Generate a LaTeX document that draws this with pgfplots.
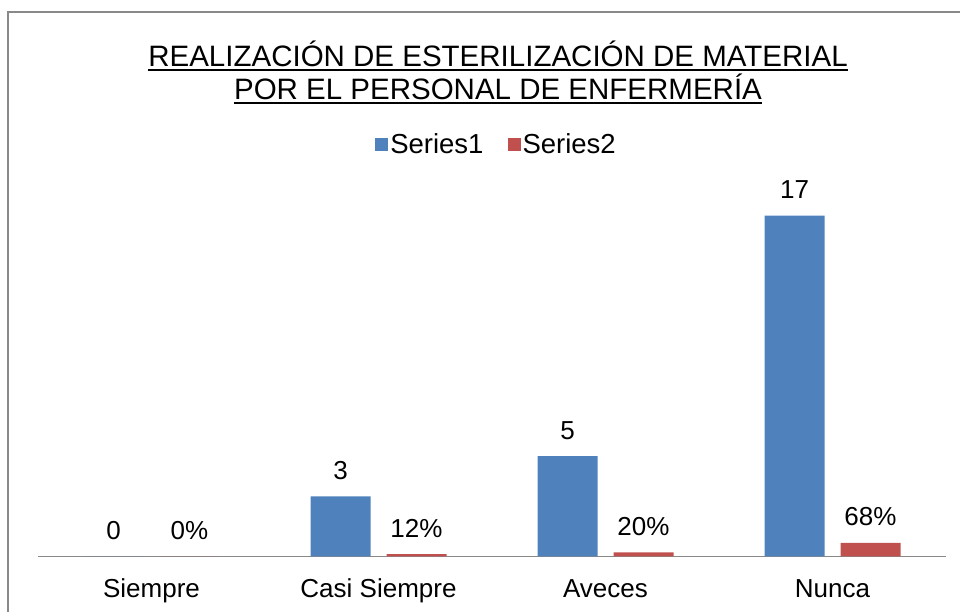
\documentclass[border=0pt]{standalone}
\usepackage{pgfplots}
\pgfplotsset{compat=1.18}
\usepackage{fontspec}
\setmainfont{Liberation Sans}
\definecolor{sone}{HTML}{4F81BD}
\definecolor{stwo}{HTML}{C0504D}
\definecolor{frame}{HTML}{898989}
\begin{document}
\begin{tikzpicture}[x=1pt,y=1pt]
\useasboundingbox (0,0) rectangle (960,612);
\draw[frame, line width=2pt] (7.5,-5) -- (7.5,600) -- (965,600);
\node[font=\fontsize{29.5}{34}\selectfont, inner sep=0pt, anchor=base] (t1) at (498,545) {REALIZACIÓN DE ESTERILIZACIÓN DE MATERIAL};
\node[font=\fontsize{29.5}{34}\selectfont, inner sep=0pt, anchor=base] (t2) at (498,512) {POR EL PERSONAL DE ENFERMERÍA};
\draw[line width=2pt] ([yshift=-3.5pt]t1.base west) -- ([yshift=-3.5pt]t1.base east);
\draw[line width=2pt] ([yshift=-3.5pt]t2.base west) -- ([yshift=-3.5pt]t2.base east);
\begin{axis}[
  at={(38pt,55.5pt)}, anchor=south west,
  scale only axis, width=908pt, height=401pt,
  ybar=16pt, bar width=60pt,
  xmin=-0.5, xmax=3.5, ymin=0, ymax=20,
  axis y line=none,
  axis x line=bottom,
  x axis line style={draw=frame, line width=1.5pt, -},
  xtick={0,1,2,3},
  xticklabels={Siempre,Casi Siempre,Aveces,Nunca},
  major tick length=0pt,
  xticklabel style={font=\fontsize{26}{31}\selectfont, anchor=base, inner sep=0pt, yshift=-41pt},
  point meta=explicit symbolic,
  nodes near coords,
  nodes near coords style={font=\fontsize{26}{31}\selectfont, anchor=base, inner sep=0pt, yshift=17pt, text=black},
  legend columns=2,
  legend style={at={(0.505,1.027)}, anchor=center, draw=none, fill=none,
    font=\fontsize{27.5}{32}\selectfont,
    /tikz/every odd column/.append style={column sep=0pt},
    /tikz/every even column/.append style={column sep=22pt}},
  legend image code/.code={\fill[#1] (0pt,-6.5pt) rectangle (13pt,6.5pt);},
  clip=false,
]
\addplot[fill=sone, draw=none] coordinates {(0,0) [0] (1,3) [3] (2,5) [5] (3,17) [17]};
\addplot[fill=stwo, draw=none] coordinates {(0,0) [0\%] (1,0.12) [12\%] (2,0.2) [20\%] (3,0.68) [68\%]};
\legend{Series1,Series2}
\end{axis}
\end{tikzpicture}
\end{document}
